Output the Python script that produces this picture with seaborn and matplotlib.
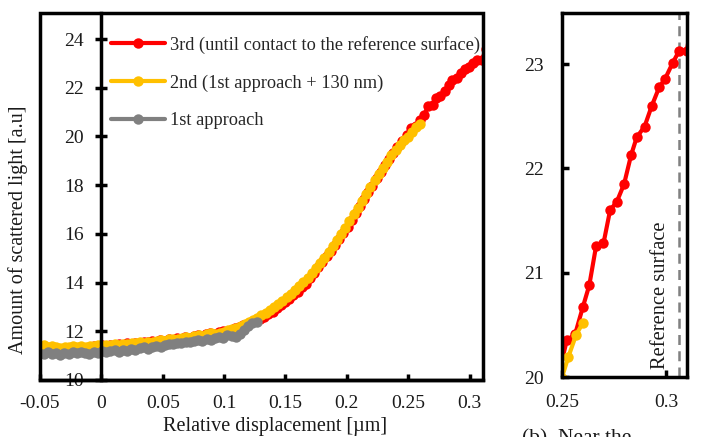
import matplotlib
matplotlib.use("Agg")
import matplotlib.pyplot as plt
import seaborn as sns
from matplotlib.patches import Rectangle

# ---------------- data ----------------
x_3rd = [-0.0503, -0.0469, -0.0435, -0.0401, -0.0367, -0.0334, -0.0300, -0.0266, -0.0232, -0.0198,
         -0.0164, -0.0130, -0.0096, -0.0062, -0.0028, 0.0006, 0.0039, 0.0073, 0.0107, 0.0141,
         0.0175, 0.0209, 0.0243, 0.0277, 0.0311, 0.0345, 0.0378, 0.0412, 0.0446, 0.0480,
         0.0514, 0.0548, 0.0582, 0.0616, 0.0650, 0.0684, 0.0717, 0.0751, 0.0785, 0.0819,
         0.0853, 0.0887, 0.0921, 0.0955, 0.0989, 0.1023, 0.1056, 0.1090, 0.1124, 0.1158,
         0.1192, 0.1226, 0.1260, 0.1294, 0.1328, 0.1362, 0.1395, 0.1429, 0.1463, 0.1497,
         0.1531, 0.1565, 0.1599, 0.1633, 0.1667, 0.1701, 0.1734, 0.1768, 0.1802, 0.1836,
         0.1870, 0.1904, 0.1938, 0.1972, 0.2006, 0.2040, 0.2073, 0.2107, 0.2141, 0.2175,
         0.2209, 0.2243, 0.2277, 0.2311, 0.2345, 0.2379, 0.2412, 0.2446, 0.2490, 0.2523,
         0.2563, 0.2600, 0.2631, 0.2664, 0.2699, 0.2731, 0.2763, 0.2798, 0.2832, 0.2859,
         0.2896, 0.2931, 0.2967, 0.2995, 0.3031, 0.3063, 0.3100, 0.3135]
y_3rd = [11.22, 11.18, 11.25, 11.21, 11.27, 11.24, 11.30, 11.26, 11.31, 11.29,
         11.35, 11.31, 11.36, 11.40, 11.37, 11.42, 11.38, 11.44, 11.41, 11.47,
         11.45, 11.50, 11.47, 11.53, 11.51, 11.57, 11.55, 11.60, 11.58, 11.64,
         11.62, 11.68, 11.66, 11.72, 11.70, 11.76, 11.74, 11.80, 11.84, 11.82,
         11.88, 11.93, 11.90, 11.97, 12.02, 12.00, 12.07, 12.13, 12.18, 12.24,
         12.30, 12.37, 12.42, 12.50, 12.58, 12.72, 12.81, 12.96, 13.06, 13.22,
         13.33, 13.50, 13.62, 13.80, 13.95, 14.18, 14.38, 14.62, 14.84, 15.10,
         15.31, 15.55, 15.78, 16.05, 16.30, 16.58, 16.86, 17.15, 17.42, 17.72,
         17.98, 18.28, 18.53, 18.82, 19.06, 19.33, 19.55, 19.80, 20.08, 20.35,
         20.41, 20.67, 20.88, 21.26, 21.28, 21.60, 21.68, 21.85, 22.13, 22.30,
         22.40, 22.60, 22.78, 22.86, 23.01, 23.13, 23.13, 23.60]

x_2nd = [-0.0505, -0.0471, -0.0437, -0.0403, -0.0368, -0.0334, -0.0300, -0.0266, -0.0232, -0.0198,
         -0.0164, -0.0129, -0.0095, -0.0061, -0.0027, 0.0007, 0.0041, 0.0075, 0.0110, 0.0144,
         0.0178, 0.0212, 0.0246, 0.0280, 0.0314, 0.0349, 0.0383, 0.0417, 0.0451, 0.0485,
         0.0519, 0.0553, 0.0587, 0.0622, 0.0656, 0.0690, 0.0724, 0.0758, 0.0792, 0.0826,
         0.0861, 0.0895, 0.0929, 0.0963, 0.0997, 0.1031, 0.1065, 0.1100, 0.1134, 0.1168,
         0.1202, 0.1236, 0.1270, 0.1304, 0.1338, 0.1373, 0.1407, 0.1441, 0.1475, 0.1509,
         0.1543, 0.1577, 0.1612, 0.1646, 0.1680, 0.1714, 0.1748, 0.1782, 0.1816, 0.1851,
         0.1885, 0.1919, 0.1953, 0.1987, 0.2021, 0.2055, 0.2090, 0.2124, 0.2158, 0.2192,
         0.2226, 0.2260, 0.2294, 0.2329, 0.2363, 0.2397, 0.2431, 0.2465, 0.2499, 0.2530,
         0.2567, 0.2600]
y_2nd = [11.38, 11.42, 11.36, 11.40, 11.35, 11.33, 11.37, 11.34, 11.38, 11.36,
         11.40, 11.37, 11.41, 11.39, 11.43, 11.41, 11.45, 11.43, 11.47, 11.45,
         11.49, 11.48, 11.52, 11.50, 11.55, 11.53, 11.58, 11.56, 11.61, 11.64,
         11.62, 11.67, 11.70, 11.68, 11.73, 11.76, 11.74, 11.79, 11.83, 11.81,
         11.87, 11.91, 11.89, 11.95, 11.99, 12.04, 12.09, 12.15, 12.22, 12.29,
         12.37, 12.46, 12.56, 12.66, 12.76, 12.87, 12.99, 13.12, 13.26, 13.40,
         13.55, 13.70, 13.85, 14.01, 14.19, 14.38, 14.58, 14.80, 15.02, 15.25,
         15.50, 15.74, 16.00, 16.26, 16.52, 16.80, 17.08, 17.36, 17.64, 17.92,
         18.20, 18.46, 18.72, 18.97, 19.22, 19.45, 19.66, 19.84, 19.99, 20.19,
         20.40, 20.52]

x_1st = [-0.0505, -0.0471, -0.0437, -0.0403, -0.0369, -0.0335, -0.0301, -0.0267, -0.0233, -0.0199,
         -0.0165, -0.0131, -0.0097, -0.0063, -0.0028, 0.0006, 0.0040, 0.0074, 0.0108, 0.0142,
         0.0176, 0.0210, 0.0244, 0.0278, 0.0312, 0.0346, 0.0380, 0.0414, 0.0448, 0.0482,
         0.0516, 0.0550, 0.0584, 0.0618, 0.0652, 0.0686, 0.0720, 0.0754, 0.0788, 0.0822,
         0.0857, 0.0891, 0.0925, 0.0959, 0.0993, 0.1027, 0.1061, 0.1095, 0.1129, 0.1163,
         0.1197, 0.1231, 0.1265]
y_1st = [11.12, 11.08, 11.15, 11.06, 11.10, 11.04, 11.12, 11.08, 11.14, 11.09,
         11.16, 11.11, 11.07, 11.15, 11.12, 11.18, 11.13, 11.20, 11.22, 11.17,
         11.25, 11.21, 11.28, 11.23, 11.30, 11.34, 11.29, 11.36, 11.40, 11.35,
         11.44, 11.49, 11.46, 11.52, 11.50, 11.56, 11.54, 11.60, 11.63, 11.61,
         11.68, 11.65, 11.72, 11.76, 11.74, 11.85, 11.82, 11.78, 11.88, 12.05,
         12.22, 12.35, 12.40]

labels = ["3rd (until contact to the reference surface)",
          "2nd (1st approach + 130 nm)",
          "1st approach"]
colors = ["#FF0000", "#FFC000", "#808080"]

main_xticks = [-0.05, 0, 0.05, 0.1, 0.15, 0.2, 0.25, 0.3]
main_xticklabels = ["-0.05", "0", "0.05", "0.1", "0.15", "0.2", "0.25", "0.3"]
main_yticks = [10, 12, 14, 16, 18, 20, 22, 24]
zoom_xticks = [0.25, 0.3]
zoom_xticklabels = ["0.25", "0.3"]
zoom_yticks = [20, 21, 22, 23]
ref_surface_x = 0.306

# ---------------- style ----------------
sns.set_theme(style="white")
plt.rcParams['font.family'] = ['Liberation Serif', 'DejaVu Serif']

W, H = 713, 437
fig = plt.figure(figsize=(W / 100, H / 100), dpi=100)

def frac(l, t, r, b):
    return [l / W, 1 - b / H, (r - l) / W, (b - t) / H]

ax = fig.add_axes(frac(40, 13, 483, 380))
ax2 = fig.add_axes(frac(562, 13, 687, 377))

series = [(x_3rd, y_3rd), (x_2nd, y_2nd), (x_1st, y_1st)]
lw = 3.0
ms = 7.5

for a, leg in ((ax, True), (ax2, False)):
    for (xs, ys), lab, c in zip(series, labels, colors):
        sns.lineplot(x=xs, y=ys, ax=a, color=c, marker="o", markersize=ms,
                     markeredgewidth=0, linewidth=lw, label=lab if leg else None,
                     legend=False, sort=False)

spine_w = 2.5
txt_c = "#1a1a1a"

# ---------- main panel ----------
ax.set_xlim(-0.05, 0.311)
ax.set_ylim(10, 25.07)
ax.set_xticks(main_xticks)
ax.set_xticklabels(main_xticklabels)
ax.set_yticks(main_yticks)
for s in ("top", "right"):
    ax.spines[s].set_visible(False)
ax.spines["left"].set_position(("data", 0))
for s in ("left", "bottom"):
    ax.spines[s].set_linewidth(spine_w)
    ax.spines[s].set_color("black")
ax.add_patch(Rectangle((0, 0), 1, 1, transform=ax.transAxes, fill=False,
                       edgecolor="black", linewidth=spine_w, clip_on=False, zorder=3))
ax.tick_params(axis="y", direction="inout", length=9, width=2.5, labelsize=14,
               pad=8, left=True, colors="black", labelcolor=txt_c)
ax.tick_params(axis="x", direction="in", length=4.5, width=2.5, labelsize=14,
               pad=11, bottom=True, colors="black", labelcolor=txt_c)
ax.set_xlabel("")
ax.set_ylabel("")

handles, labs = ax.get_legend_handles_labels()
ax.legend(handles, labs, loc="upper left", bbox_to_anchor=(0.152, 0.948),
          frameon=False, fontsize=13.2, handlelength=2.95, handletextpad=0.25,
          labelspacing=1.12, borderpad=0.2, borderaxespad=0)

fig.text(275 / W, 1 - 426 / H, "Relative displacement [µm]", ha="center",
         va="center", fontsize=14.5, color=txt_c)
fig.text(18 / W, 1 - 230 / H, "Amount of scattered light [a.u]", ha="center",
         va="center", rotation=90, fontsize=14.5, color=txt_c)

# ---------- zoom panel ----------
ax2.set_xlim(0.25, 0.31)
ax2.set_ylim(20, 23.49)
ax2.set_xticks(zoom_xticks)
ax2.set_xticklabels(zoom_xticklabels)
ax2.set_yticks(zoom_yticks)
for s in ax2.spines.values():
    s.set_visible(True)
    s.set_linewidth(spine_w)
    s.set_color("black")
ax2.tick_params(axis="y", direction="in", length=5, width=2.5, labelsize=14,
                pad=13, left=True, colors="black", labelcolor=txt_c)
ax2.tick_params(axis="x", direction="in", length=5, width=2.5, labelsize=14,
                pad=12, bottom=True, colors="black", labelcolor=txt_c)
ax2.axvline(ref_surface_x, color="#808080", linestyle=(0, (4, 2.5)), linewidth=1.8, zorder=1)
ax2.text(0.2971, 20.08, "Reference surface", rotation=90, ha="center", va="bottom",
         fontsize=14.8, color=txt_c)
ax2.set_xlabel("")
ax2.set_ylabel("")

# partly visible caption below the zoom panel (cut by the figure edge, as in the source)
fig.text(522 / W, 1 - 429 / H, "(b)  Near the", ha="left",
         va="top", fontsize=15.5, color=txt_c)

fig.savefig("out.png", dpi=100, facecolor="white")
